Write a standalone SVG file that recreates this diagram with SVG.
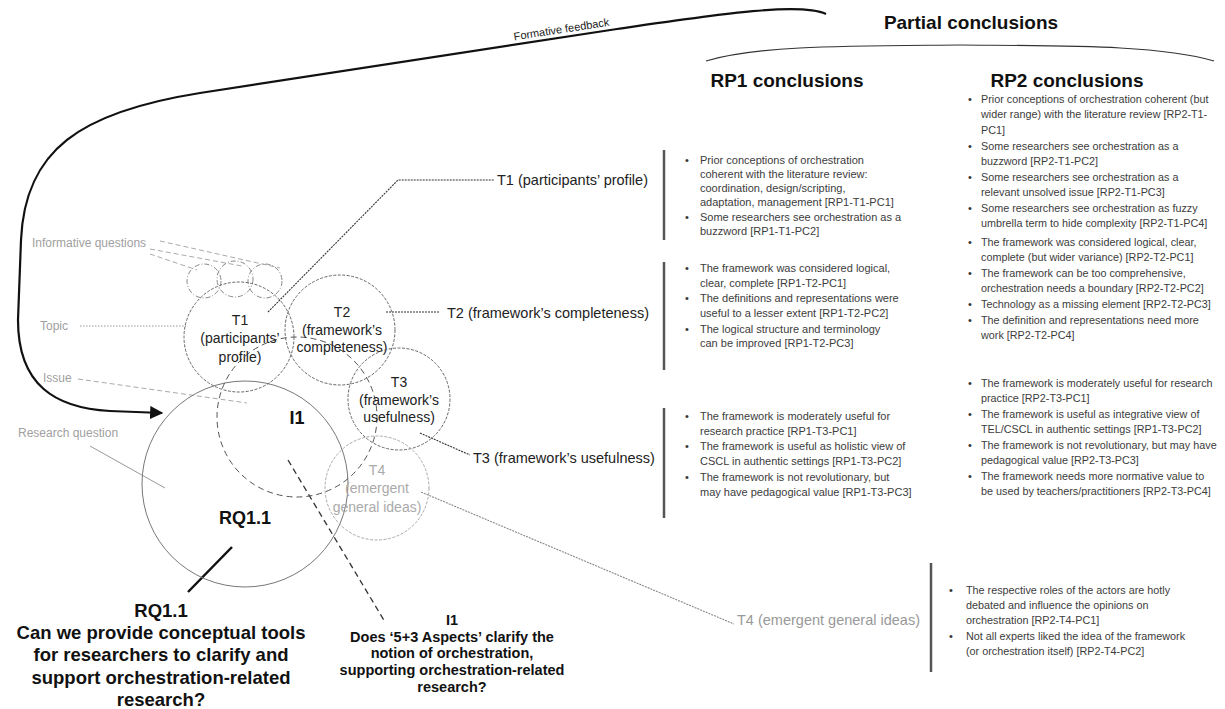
<svg xmlns="http://www.w3.org/2000/svg" width="1225" height="709" viewBox="0 0 1225 709">
  <style>
    text { font-family: "Liberation Sans", Arial, sans-serif; }
    .title { font-size: 19px; font-weight: bold; fill: #111; text-anchor: middle; }
    .lbl { font-size: 14.5px; fill: #222; }
    .lblg { font-size: 14.5px; fill: #999; }
    .side { font-size: 12px; fill: #a0a0a0; }
    .ctext { font-size: 14px; fill: #222; text-anchor: middle; }
    .ctextg { font-size: 14px; fill: #aaa; text-anchor: middle; }
    .big { font-size: 18px; font-weight: bold; fill: #111; text-anchor: middle; }
    .q { font-size: 18.5px; font-weight: bold; fill: #111; text-anchor: middle; }
    .q2 { font-size: 14.5px; font-weight: bold; fill: #111; text-anchor: middle; }
    .body { font-size: 11px; fill: #3c3c3c; }
    .body2 { font-size: 10.8px; fill: #3c3c3c; }
    .bul { font-size: 11px; fill: #333; }
    .bar { stroke: #555; stroke-width: 2.5; }
    .topic { fill: none; stroke: #666; stroke-width: 1; stroke-dasharray: 3 1.5; }
    .topicg { fill: none; stroke: #aaa; stroke-width: 1; stroke-dasharray: 3 1.5; }
    .issue { fill: none; stroke: #555; stroke-width: 1; stroke-dasharray: 6 4; }
    .rq { fill: none; stroke: #777; stroke-width: 1; }
    .iq { fill: none; stroke: #888; stroke-width: 1; stroke-dasharray: 5 2 1 2; }
    .dot { fill: none; stroke: #333; stroke-width: 1.1; stroke-dasharray: 2 1; }
    .dotg { fill: none; stroke: #888; stroke-width: 1.1; stroke-dasharray: 2 1; }
    .dashg { fill: none; stroke: #aaa; stroke-width: 1; stroke-dasharray: 5 3; }
    .fine { fill: none; stroke: #999; stroke-width: 1; }
  </style>
  <defs>
    <marker id="arrow" viewBox="0 0 10 10" refX="9" refY="5" markerWidth="6" markerHeight="6" orient="auto" markerUnits="strokeWidth">
      <path d="M0,0 L10,5 L0,10 z" fill="#111"/>
    </marker>
  </defs>
  <rect width="1225" height="709" fill="#fff"/>

  <!-- connectors -->
  <g id="connectors">
    <!-- formative feedback loop back into the research question -->
    <path d="M 826 14 C 800 2 720 14 617 29 L 200 93 C 80 112 25 150 21 240 L 18 320 C 18 385 55 408 110 411 L 162 413" fill="none" stroke="#111" stroke-width="2.2" marker-end="url(#arrow)"/>
    <!-- legend pointers -->
    <line class="dashg" x1="160" y1="241" x2="280" y2="268"/>
    <line class="dashg" x1="150" y1="249" x2="242" y2="266"/>
    <line class="dashg" x1="150" y1="254" x2="197" y2="270"/>
    <line class="fine" x1="80" y1="326" x2="186" y2="326" stroke-dasharray="1.5 1.5"/>
    <line class="dashg" x1="78" y1="379" x2="247" y2="403"/>
    <line class="fine" x1="90" y1="446" x2="165" y2="488"/>
    <!-- topic pointers -->
    <polyline class="dot" points="268,312 398,180 494,180"/>
    <line class="dot" x1="386" y1="312" x2="440" y2="312"/>
    <line class="dot" x1="420" y1="433" x2="470" y2="455"/>
    <line class="dotg" x1="421" y1="492" x2="734" y2="624"/>
    <!-- issue and research question pointers -->
    <line x1="288" y1="460" x2="385" y2="622" stroke="#333" stroke-width="1.3" stroke-dasharray="6 4"/>
    <line x1="232" y1="547" x2="188" y2="592" stroke="#111" stroke-width="2.5"/>
    <!-- partial conclusions brace -->
    <path d="M 706 61 C 760 45 850 46 960 45 C 1070 46 1160 45 1214 61" fill="none" stroke="#333" stroke-width="1.2"/>
  </g>

  <!-- legend -->
  <g id="legend">
    <text class="side" x="32" y="247">Informative questions</text>
    <text class="side" x="40" y="330">Topic</text>
    <text class="side" x="43" y="382">Issue</text>
    <text class="side" x="18" y="437">Research question</text>
  </g>

  <text x="562" y="33" font-size="11" fill="#222" text-anchor="middle" transform="rotate(-8.8 562 33)">Formative feedback</text>

  <!-- research question -->
  <g id="rq">
    <circle class="rq" cx="245" cy="484" r="103"/>
    <text class="big" x="245" y="524">RQ1.1</text>
    <text class="q" x="161" y="617">RQ1.1<tspan x="161" y="639">Can we provide conceptual tools</tspan><tspan x="161" y="661">for researchers to clarify and</tspan><tspan x="161" y="684">support orchestration-related</tspan><tspan x="161" y="706">research?</tspan></text>
  </g>

  <!-- issue -->
  <g id="i1">
    <circle class="issue" cx="297" cy="417" r="80"/>
    <text class="big" x="297" y="424">I1</text>
    <text class="q2" x="452" y="625">I1<tspan x="452" y="642">Does ‘5+3 Aspects’ clarify the</tspan><tspan x="452" y="658">notion of orchestration,</tspan><tspan x="452" y="675">supporting orchestration-related</tspan><tspan x="452" y="692">research?</tspan></text>
  </g>

  <!-- informative questions -->
  <g id="iq">
    <circle class="iq" cx="204" cy="281" r="17"/>
    <circle class="iq" cx="235" cy="279" r="18"/>
    <circle class="iq" cx="265" cy="281" r="17"/>
  </g>

  <!-- topics -->
  <g id="t1">
    <circle class="topic" cx="239" cy="337" r="55"/>
    <text class="ctext" x="240" y="325">T1<tspan x="240" y="343">(participants’</tspan><tspan x="240" y="362">profile)</tspan></text>
    <text class="lbl" x="497" y="185">T1 (participants’ profile)</text>
  </g>
  <g id="t2">
    <circle class="topic" cx="340" cy="330" r="55"/>
    <text class="ctext" x="342" y="317">T2<tspan x="342" y="335">(framework’s</tspan><tspan x="342" y="352">completeness)</tspan></text>
    <text class="lbl" x="447" y="318">T2 (framework’s completeness)</text>
  </g>
  <g id="t3">
    <circle class="topic" cx="399" cy="399" r="51"/>
    <text class="ctext" x="399" y="387">T3<tspan x="399" y="405">(framework’s</tspan><tspan x="399" y="422">usefulness)</tspan></text>
    <text class="lbl" x="473" y="463">T3 (framework’s usefulness)</text>
  </g>
  <g id="t4">
    <circle class="topicg" cx="377" cy="488" r="52"/>
    <text class="ctextg" x="377" y="475">T4<tspan x="377" y="493">(emergent</tspan><tspan x="377" y="512">general ideas)</tspan></text>
    <text class="lblg" x="737" y="625">T4 (emergent general ideas)</text>
  </g>

  <!-- conclusions -->
  <g id="conclusions">
    <text class="title" x="971" y="29">Partial conclusions</text>
    <text class="title" x="787" y="87">RP1 conclusions</text>
    <text class="title" x="1067" y="87">RP2 conclusions</text>
    <line class="bar" x1="664" y1="150" x2="664" y2="240"/>
    <line class="bar" x1="664" y1="262" x2="664" y2="370"/>
    <line class="bar" x1="664" y1="408" x2="664" y2="518"/>
    <line class="bar" x1="931" y1="563" x2="931" y2="672"/>
  </g>

  <g id="rp1">
    <text class="bul" x="685" y="164">•</text>
    <text class="bul" x="685" y="221">•</text>
    <text class="body" x="700" y="164">Prior conceptions of orchestration<tspan x="700" y="178">coherent with the literature review:</tspan><tspan x="700" y="192">coordination, design/scripting,</tspan><tspan x="700" y="206">adaptation, management [RP1-T1-PC1]</tspan><tspan x="700" y="221">Some researchers see orchestration as a</tspan><tspan x="700" y="235">buzzword [RP1-T1-PC2]</tspan></text>
    <text class="bul" x="685" y="272">•</text>
    <text class="bul" x="685" y="302">•</text>
    <text class="bul" x="685" y="333">•</text>
    <text class="body" x="700" y="272">The framework was considered logical,<tspan x="700" y="287">clear, complete [RP1-T2-PC1]</tspan><tspan x="700" y="302">The definitions and representations were</tspan><tspan x="700" y="317">useful to a lesser extent [RP1-T2-PC2]</tspan><tspan x="700" y="333">The logical structure and terminology</tspan><tspan x="700" y="347">can be improved [RP1-T2-PC3]</tspan></text>
    <text class="bul" x="685" y="420">•</text>
    <text class="bul" x="685" y="450">•</text>
    <text class="bul" x="685" y="481">•</text>
    <text class="body" x="700" y="420">The framework is moderately useful for<tspan x="700" y="435">research practice [RP1-T3-PC1]</tspan><tspan x="700" y="450">The framework is useful as holistic view of</tspan><tspan x="700" y="465">CSCL in authentic settings [RP1-T3-PC2]</tspan><tspan x="700" y="481">The framework is not revolutionary, but</tspan><tspan x="700" y="496">may have pedagogical value [RP1-T3-PC3]</tspan></text>
  </g>

  <g id="rp2">
    <text class="bul" x="968" y="103">•</text>
    <text class="bul" x="968" y="150">•</text>
    <text class="bul" x="968" y="181">•</text>
    <text class="bul" x="968" y="212">•</text>
    <text class="body2" x="981" y="103">Prior conceptions of orchestration coherent (but<tspan x="981" y="118">wider range) with the literature review [RP2-T1-</tspan><tspan x="981" y="134">PC1]</tspan><tspan x="981" y="150">Some researchers see orchestration as a</tspan><tspan x="981" y="165">buzzword [RP2-T1-PC2]</tspan><tspan x="981" y="181">Some researchers see orchestration as a</tspan><tspan x="981" y="196">relevant unsolved issue [RP2-T1-PC3]</tspan><tspan x="981" y="212">Some researchers see orchestration as fuzzy</tspan><tspan x="981" y="227">umbrella term to hide complexity [RP2-T1-PC4]</tspan></text>
    <text class="bul" x="968" y="246">•</text>
    <text class="bul" x="968" y="277">•</text>
    <text class="bul" x="968" y="308">•</text>
    <text class="bul" x="968" y="324">•</text>
    <text class="body2" x="981" y="246">The framework was considered logical, clear,<tspan x="981" y="261">complete (but wider variance) [RP2-T2-PC1]</tspan><tspan x="981" y="277">The framework can be too comprehensive,</tspan><tspan x="981" y="292">orchestration needs a boundary [RP2-T2-PC2]</tspan><tspan x="981" y="308">Technology as a missing element [RP2-T2-PC3]</tspan><tspan x="981" y="324">The definition and representations need more</tspan><tspan x="981" y="339">work [RP2-T2-PC4]</tspan></text>
    <text class="bul" x="968" y="387">•</text>
    <text class="bul" x="968" y="418">•</text>
    <text class="bul" x="968" y="449">•</text>
    <text class="bul" x="968" y="480">•</text>
    <text class="body2" x="981" y="387">The framework is moderately useful for research<tspan x="981" y="402">practice [RP2-T3-PC1]</tspan><tspan x="981" y="418">The framework is useful as integrative view of</tspan><tspan x="981" y="433">TEL/CSCL in authentic settings [RP1-T3-PC2]</tspan><tspan x="981" y="449">The framework is not revolutionary, but may have</tspan><tspan x="981" y="464">pedagogical value [RP2-T3-PC3]</tspan><tspan x="981" y="480">The framework needs more normative value to</tspan><tspan x="981" y="495">be used by teachers/practitioners [RP2-T3-PC4]</tspan></text>
    <text class="bul" x="949" y="594">•</text>
    <text class="bul" x="949" y="640">•</text>
    <text class="body2" x="966" y="594">The respective roles of the actors are hotly<tspan x="966" y="609">debated and influence the opinions on</tspan><tspan x="966" y="624">orchestration [RP2-T4-PC1]</tspan><tspan x="966" y="640">Not all experts liked the idea of the framework</tspan><tspan x="966" y="655">(or orchestration itself) [RP2-T4-PC2]</tspan></text>
  </g>
</svg>
